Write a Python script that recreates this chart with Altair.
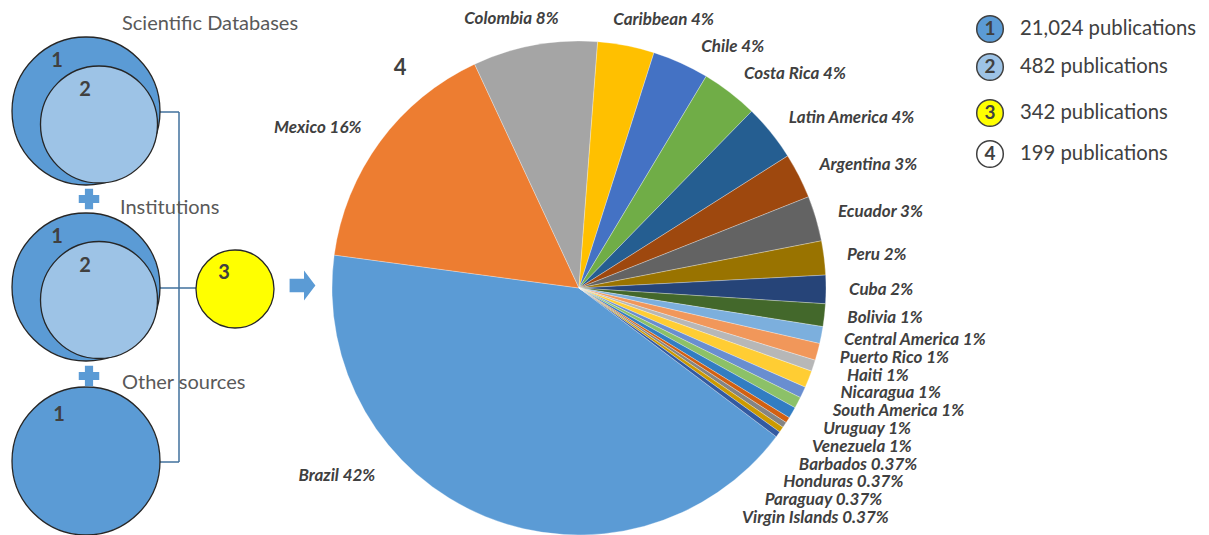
import math
import altair as alt
import pandas as pd

# ---------------- data ----------------
countries = ["Brazil", "Mexico", "Colombia", "Caribbean", "Chile", "Costa Rica",
             "Latin America", "Argentina", "Ecuador", "Peru", "Cuba", "Bolivia",
             "Central America", "Puerto Rico", "Haiti", "Nicaragua", "South America",
             "Uruguay", "Venezuela", "Barbados", "Honduras", "Paraguay", "Virgin Islands"]
counts = [113, 43, 22, 10, 10, 10, 10, 8, 8, 6, 5, 4, 3, 3, 2, 3, 2, 2, 2, 1, 1, 1, 1]
pct_labels = ["42%", "16%", "8%", "4%", "4%", "4%", "4%", "3%", "3%", "2%", "2%", "1%",
              "1%", "1%", "1%", "1%", "1%", "1%", "1%", "0.37%", "0.37%", "0.37%", "0.37%"]
slice_colors = ["#5B9BD5", "#ED7D31", "#A5A5A5", "#FFC000", "#4472C4", "#70AD47",
                "#255E91", "#9E480E", "#636363", "#997300", "#264478", "#43682B",
                "#7CAFDD", "#F1975A", "#B7B7B7", "#FFCD33", "#698ED0", "#8CC168",
                "#327DC2", "#D26012", "#848484", "#CC9A00", "#335AA1"]

legend_numbers = ["1", "2", "3", "4"]
legend_texts = ["21,024 publications", "482 publications", "342 publications", "199 publications"]
legend_fills = ["#5B9BD5", "#9DC3E6", "#FFFF00", "#FFFFFF"]

stage_titles = ["Scientific Databases", "Institutions", "Other sources"]

# ---------------- layout ----------------
W, H = 1209, 535
CX, CY, R = 579, 288, 247
START_DEG = 127.0
TEXT = "#404040"
FONT = "Lato"

total = sum(counts)
pie_df = pd.DataFrame({"country": countries, "n": counts, "idx": list(range(len(countries)))})

# label layout computed from the slice angles
label_shift = {"Brazil": 25.0, "Colombia": 6.0, "Caribbean": -3.7, "Chile": 2.6}
RL, RX, MIN_GAP = 270.0, 282.0, 17.8
rows = []
cum = 0
for c, n, p in zip(countries, counts, pct_labels):
    a0 = START_DEG + 360.0 * cum / total
    a1 = a0 + 360.0 * n / total
    cum += n
    mid = ((a0 + a1) / 2 + label_shift.get(c, 0.0)) % 360
    rad = math.radians(mid)
    rl = RL + (7 if c == "Brazil" else 0)
    rows.append({"label": f"{c} {p}", "mid": mid,
                 "x": CX + rl * math.sin(rad), "y": CY - rl * math.cos(rad),
                 "side": "L" if 0 < mid < 180 else "R"})
right = sorted([r for r in rows if r["side"] == "L"], key=lambda r: r["mid"])
prev = None
for r in right:
    if prev is not None and r["mid"] > 90 and r["y"] < prev + MIN_GAP:
        r["y"] = prev + MIN_GAP
        r["x"] = CX + math.sqrt(max(RX ** 2 - (r["y"] - CY) ** 2, 0))
    prev = r["y"]
lab_df = pd.DataFrame(rows)

X = lambda f="x": alt.X(f"{f}:Q", scale=None, axis=None)
Y = lambda f="y": alt.Y(f"{f}:Q", scale=None, axis=None)

pie = alt.Chart(pie_df).mark_arc(outerRadius=R, stroke="#FFFFFF", strokeWidth=0.3).encode(
    theta=alt.Theta("n:Q", stack=True,
                    scale=alt.Scale(range=[math.radians(START_DEG), math.radians(START_DEG) + 2 * math.pi])),
    order=alt.Order("idx:Q"),
    color=alt.Color("country:N", scale=alt.Scale(domain=countries, range=slice_colors), legend=None),
    x=alt.value(CX), y=alt.value(CY),
)

LAB_SIZE = 17
lab_left = alt.Chart(lab_df[lab_df.side == "L"]).mark_text(
    align="left", baseline="middle", font=FONT, fontSize=LAB_SIZE, fontWeight="bold",
    fontStyle="italic", color=TEXT).encode(x=X(), y=Y(), text="label:N")
lab_right = alt.Chart(lab_df[lab_df.side == "R"]).mark_text(
    align="right", baseline="middle", font=FONT, fontSize=LAB_SIZE, fontWeight="bold",
    fontStyle="italic", color=TEXT).encode(x=X(), y=Y(), text="label:N")

# ---------------- left diagram ----------------
circ_df = pd.DataFrame({
    "x": [86, 99, 86, 99, 86, 235],
    "y": [111, 124.5, 287, 300, 461, 289],
    "r": [74, 58.5, 74, 58.5, 74, 39],
    "fill": ["#5B9BD5", "#9DC3E6", "#5B9BD5", "#9DC3E6", "#5B9BD5", "#FFFF00"],
    "o": [0, 1, 2, 3, 4, 5],
})
circ_df["size"] = (2 * circ_df["r"]) ** 2
circles = alt.Chart(circ_df).mark_circle(opacity=1, stroke="#262626", strokeWidth=1.3).encode(
    x=X(), y=Y(), size=alt.Size("size:Q", scale=None, legend=None),
    fill=alt.Fill("fill:N", scale=None), order=alt.Order("o:Q"))

lines_df = pd.DataFrame({
    "x": [160, 179, 160, 160], "x2": [179, 179, 179, 196],
    "y": [112, 112, 462, 288], "y2": [112, 462, 462, 288]})
lines = alt.Chart(lines_df).mark_rule(color="#41719C", strokeWidth=1.5).encode(
    x=X(), x2="x2:Q", y=Y(), y2="y2:Q")

plus_df = pd.DataFrame({"x": [89, 89], "y": [199, 376]})
pluses = alt.Chart(plus_df).mark_point(shape="cross", filled=True, size=420, opacity=1,
                                        color="#5B9BD5").encode(x=X(), y=Y())

arrow_df = pd.DataFrame({"x": [302.5], "y": [285.5]})
arrow = alt.Chart(arrow_df).mark_point(
    shape="M-0.86,-0.45 L0.1,-0.45 L0.1,-1 L0.86,0 L0.1,1 L0.1,0.45 L-0.86,0.45 Z",
    filled=True, size=900, opacity=1, color="#5B9BD5").encode(x=X(), y=Y())

titles_df = pd.DataFrame({"t": stage_titles, "x": [122, 120, 122], "y": [24, 208, 383]})
titles = alt.Chart(titles_df).mark_text(align="left", baseline="middle", font=FONT,
                                         fontSize=20, color="#595959").encode(
    x=X(), y=Y(), text="t:N")

nums_df = pd.DataFrame({"t": ["1", "2", "1", "2", "1", "3", "4"],
                        "x": [57, 85, 57, 85, 59, 224, 400],
                        "y": [61, 90, 237, 266, 415, 273, 68],
                        "s": [20, 20, 20, 20, 20, 20, 22]})
nums = alt.Chart(nums_df).mark_text(align="center", baseline="middle", font=FONT,
                                     fontWeight="bold", color=TEXT).encode(
    x=X(), y=Y(), text="t:N", size=alt.Size("s:Q", scale=None, legend=None))

# ---------------- legend ----------------
leg_df = pd.DataFrame({"num": legend_numbers, "txt": legend_texts, "fill": legend_fills,
                       "x": [990] * 4, "tx": [1020] * 4, "y": [29, 67, 113, 154]})
leg_df["size"] = (2 * 13.3) ** 2
leg_c = alt.Chart(leg_df).mark_circle(opacity=1, stroke="#404040", strokeWidth=1.5).encode(
    x=X(), y=Y(), size=alt.Size("size:Q", scale=None, legend=None),
    fill=alt.Fill("fill:N", scale=None))
leg_n = alt.Chart(leg_df).mark_text(align="center", baseline="middle", font=FONT,
                                     fontWeight="bold", fontSize=19, color=TEXT).encode(
    x=X(), y=Y(), text="num:N")
leg_t = alt.Chart(leg_df).mark_text(align="left", baseline="middle", font=FONT,
                                     fontSize=20.3, color=TEXT).encode(
    x=X("tx"), y=Y(), text="txt:N")

chart = alt.layer(lines, circles, pluses, arrow, titles, nums, pie, lab_left, lab_right,
                  leg_c, leg_n, leg_t).properties(
    width=W, height=H, padding=0, autosize="none", background="#FFFFFF"
).configure_view(strokeWidth=0).resolve_scale(color="independent", size="independent")

chart.save("out.html", embed_options={"renderer": "svg", "actions": False})
